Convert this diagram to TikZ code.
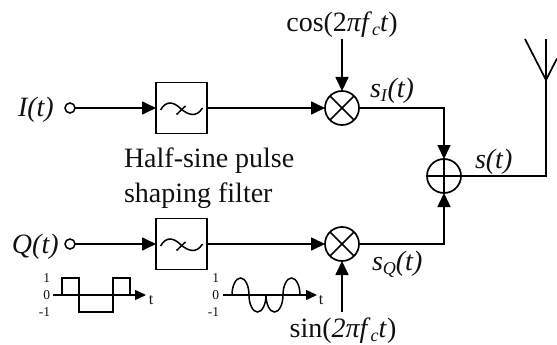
\documentclass[tikz,border=0pt]{standalone}
\usepackage{fontspec}
\setmainfont{Liberation Serif}
\usetikzlibrary{positioning, arrows.meta, calc}
\definecolor{clrline}{HTML}{000000}
\definecolor{clrtext}{HTML}{111111}
\newcommand{\lowsub}[1]{\raisebox{-4pt}{\fontsize{18}{18}\selectfont #1}}

\begin{document}
\begin{tikzpicture}[
    x=1pt, y=-1pt,
    >={Triangle[length=14pt, width=13pt]},
    every node/.style={font=\fontsize{28}{35}\selectfont, text=clrtext, inner sep=0, outer sep=0},
    filterbox/.style={draw=clrline, line width=1.7pt, minimum size=51pt},
    pinpoint/.style={draw=clrline, circle, line width=1.5pt, minimum size=10pt},
    mixer/.style={draw=clrline, circle, line width=1.7pt, minimum size=34pt},
    arrow/.style={->, color=clrline, line width=1.7pt},
    wire/.style={color=clrline, line width=1.7pt},
    wave/.style={color=clrline, line width=1.5pt},
    smallarrow/.style={-{Triangle[length=11pt, width=10pt]}, color=clrline, line width=1.5pt},
    tick/.style={font=\fontsize{13.5}{15}\selectfont, anchor=east},
    axisname/.style={font=\fontsize{16}{18}\selectfont, anchor=center},
    tildeline/.style={color=clrline, line width=1.5pt},
]
\useasboundingbox (0,0) rectangle (557,345);
% upper branch
\node[pinpoint] (pin_i) at (70,108) {};
\node[filterbox, right=81pt of pin_i] (filter_i) {};
\node[mixer, right=118pt of filter_i] (mix_i) {};
\node[anchor=base west] (lbl_i) at (18,117) {\itshape I(t)};
% lower branch
\node[pinpoint, below=126pt of pin_i] (pin_q) {};
\node[filterbox, right=81pt of pin_q] (filter_q) {};
\node[mixer, right=118pt of filter_q] (mix_q) {};
\node[anchor=base west] (lbl_q) at (12,253) {\itshape Q(t)};
% adder and antenna
\node[mixer] (adder) at (444,176) {};
\coordinate (ant_top) at (546,39);
\coordinate (ant_v) at (546,80);
\coordinate (ant_left) at (525,39);
\coordinate (ant_right) at (557,58.5);
% mixer and adder strokes
\draw[wire] (mix_i.45) -- (mix_i.225) (mix_i.135) -- (mix_i.315);
\draw[wire] (mix_q.45) -- (mix_q.225) (mix_q.135) -- (mix_q.315);
\draw[wire] (adder.north) -- (adder.south) (adder.west) -- (adder.east);
% filter symbols
\foreach \n in {filter_i, filter_q} {
  \draw[tildeline] ([xshift=-21pt,yshift=-2pt]\n.center) .. controls ([xshift=-15pt,yshift=8pt]\n.center) and ([xshift=-8pt,yshift=6pt]\n.center) .. ([xshift=-1.5pt]\n.center) .. controls ([xshift=6pt,yshift=-7pt]\n.center) and ([xshift=15pt,yshift=-10pt]\n.center) .. ([xshift=21pt,yshift=0pt]\n.center);
  \draw[tildeline] ([xshift=-5pt,yshift=-6.5pt]\n.center) -- ([xshift=4pt,yshift=2pt]\n.center);
}
% connectors
\draw[arrow] (pin_i.east) -- (filter_i.west);
\draw[arrow] (filter_i.east) -- (mix_i.west);
\draw[arrow] (pin_q.east) -- (filter_q.west);
\draw[arrow] (filter_q.east) -- (mix_q.west);
\draw[arrow] (mix_i.east) -| (adder.north);
\draw[arrow] (mix_q.east) -| (adder.south);
\draw[wire] (adder.east) -| (ant_top);
\draw[wire] (ant_left) -- (ant_v) -- (ant_right);
% carriers
\node[anchor=base] (lbl_cos) at (342,32) {cos(2\textit{πf}\lowsub{\textit{c}}\textit{t})};
\node[anchor=base] (lbl_sin) at (343,337) {sin(\textit{2πf}\lowsub{\textit{c}}\textit{t})};
\coordinate (cos_end) at (342,39);
\coordinate (sin_end) at (342,312);
\draw[arrow] (cos_end) -- (mix_i.north);
\draw[arrow] (sin_end) -- (mix_q.south);
% signal labels
\node[anchor=base west] (lbl_si) at (370,98) {\textit{s}\lowsub{\textit{I}}\textit{(t)}};
\node[anchor=base west] (lbl_sq) at (372,270) {\textit{s}\lowsub{\textit{Q}}\textit{(t)}};
\node[anchor=base west] (lbl_s) at (475,168) {\textit{s(t)}};
\node[align=left, anchor=base west] (lbl_filter) at (124,202) {Half-sine pulse\\shaping filter};
% square wave
\coordinate (sq_0) at (53,295);
\coordinate (sq_end) at (146,295);
\draw[smallarrow] (sq_0) -- (sq_end);
\draw[wave] (62,295) -- (62,278) -- (79,278) -- (79,312) -- (113,312) -- (113,278) -- (130,278) -- (130,295);
\node[tick] (sq_hi) at (50,278) {1};
\node[tick] (sq_mid) at (50,295) {0};
\node[tick] (sq_lo) at (50,312) {-1};
\node[axisname] (sq_t) at (151,300) {t};
% half-sine wave
\coordinate (hs_0) at (223,295);
\coordinate (hs_end) at (317,295);
\draw[smallarrow] (hs_0) -- (hs_end);
\draw[wave] (232,295) arc[start angle=180, end angle=0, x radius=8.5pt, y radius=17pt]
  arc[start angle=180, end angle=360, x radius=8.5pt, y radius=17pt]
  arc[start angle=180, end angle=360, x radius=8.5pt, y radius=17pt]
  arc[start angle=180, end angle=0, x radius=8.5pt, y radius=17pt];
\node[tick] (hs_hi) at (219,278) {1};
\node[tick] (hs_mid) at (219,295) {0};
\node[tick] (hs_lo) at (219,312) {-1};
\node[axisname] (hs_t) at (321,300) {t};
\end{tikzpicture}
\end{document}
